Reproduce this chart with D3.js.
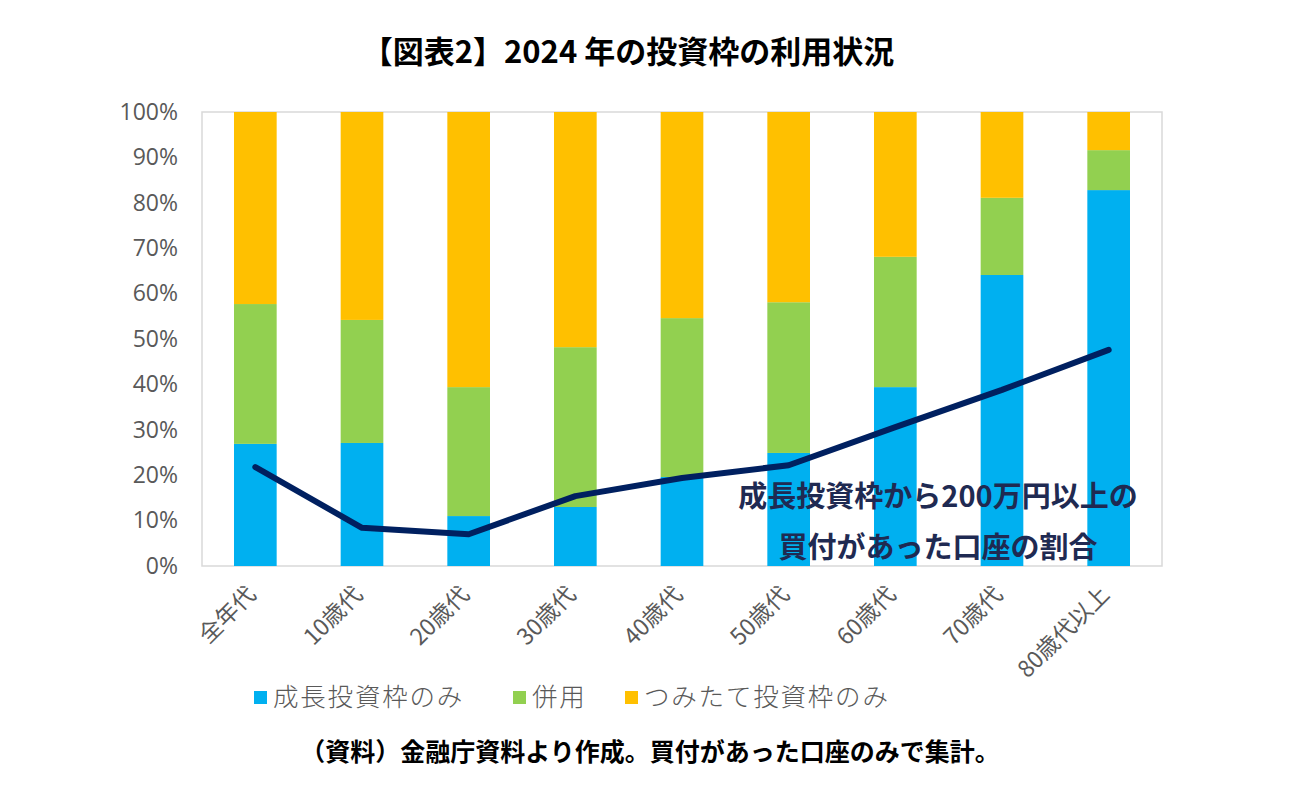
<!DOCTYPE html>
<html>
<head>
<meta charset="utf-8">
<script src="https://cdn.jsdelivr.net/npm/d3@7"></script>
<style>
  body { margin: 0; background: #fff; }
  text { font-family: "Noto Sans CJK JP", "Noto Sans", sans-serif; }
</style>
</head>
<body>
<div class="chart"></div>
<script>
const categories = ["全年代", "10歳代", "20歳代", "30歳代", "40歳代", "50歳代", "60歳代", "70歳代", "80歳代以上"];
const growthOnly = [26.9, 27.1, 11.0, 13.0, 19.6, 24.9, 39.4, 64.1, 82.8];
const combined   = [30.8, 27.1, 28.4, 35.2, 35.0, 33.2, 28.7, 17.0, 8.8];
const tsumitate  = categories.map((c, i) => +(100 - growthOnly[i] - combined[i]).toFixed(1));
const over200    = [21.8, 8.4, 7.0, 15.4, 19.4, 22.2, 30.6, 38.8, 47.6];
const yTicks = [0, 10, 20, 30, 40, 50, 60, 70, 80, 90, 100];
const seriesNames = ["成長投資枠のみ", "併用", "つみたて投資枠のみ"];
const colors = ["#00b0f0", "#92d050", "#ffc000"];

const W = 1296, H = 811;
const margin = {top: 112, left: 202, right: 134, bottom: 245};
const width = W - margin.left - margin.right;
const height = H - margin.top - margin.bottom;

const svg = d3.select(".chart").append("svg")
    .attr("width", W).attr("height", H);

svg.append("text")
    .attr("x", 628).attr("y", 63)
    .attr("text-anchor", "middle")
    .attr("font-size", 31).attr("font-weight", "bold")
    .attr("fill", "#000")
    .text("【図表2】2024 年の投資枠の利用状況");

const g = svg.append("g")
    .attr("transform", `translate(${margin.left},${margin.top})`);

const x = d3.scaleBand().domain(categories).range([0, width]).paddingInner(0.6).paddingOuter(0.3);
const y = d3.scaleLinear().domain([0, 100]).range([height, 0]);

// frame
g.append("rect")
    .attr("x", 0).attr("y", 0).attr("width", width).attr("height", height)
    .attr("fill", "none").attr("stroke", "#d9d9d9").attr("stroke-width", 1.5);

// stacked bars
const rows = categories.map((c, i) => ({cat: c, s0: growthOnly[i], s1: combined[i], s2: tsumitate[i]}));
const stack = d3.stack().keys(["s0", "s1", "s2"])(rows);

g.selectAll(".layer").data(stack).enter().append("g")
    .attr("fill", (d, i) => colors[i])
    .selectAll("rect").data(d => d).enter().append("rect")
    .attr("x", d => x(d.data.cat))
    .attr("y", d => y(Math.min(d[1], 100)))
    .attr("width", x.bandwidth())
    .attr("height", d => y(d[0]) - y(Math.min(d[1], 100)));

// y axis
const yAxis = d3.axisLeft(y).tickValues(yTicks).tickFormat(d => d + "%").tickSize(0).tickPadding(24);
const ya = g.append("g").call(yAxis);
ya.select(".domain").remove();
ya.selectAll("text").attr("font-size", 23).attr("fill", "#595959")
    .style("font-family", "'Open Sans', 'Noto Sans', sans-serif");

// x axis labels rotated
const xAxis = d3.axisBottom(x).tickSize(0).tickPadding(0);
const xa = g.append("g").attr("transform", `translate(0,${height})`).call(xAxis);
xa.select(".domain").remove();
xa.selectAll("text")
    .attr("font-size", 23).attr("fill", "#595959")
    .attr("text-anchor", "end")
    .attr("dy", 0)
    .attr("transform", `translate(2,30) rotate(-45)`);

// line
const line = d3.line()
    .x((d, i) => x(categories[i]) + x.bandwidth() / 2)
    .y(d => y(d));
g.append("path")
    .datum(over200)
    .attr("d", line)
    .attr("fill", "none")
    .attr("stroke", "#002060")
    .attr("stroke-width", 6)
    .attr("stroke-linecap", "round")
    .attr("stroke-linejoin", "round");

// annotation
const ann = g.append("text")
    .attr("text-anchor", "middle")
    .attr("font-size", 29).attr("font-weight", "bold")
    .attr("fill", "#1f2a52");
ann.append("tspan").attr("x", 736).attr("y", 395).text("成長投資枠から200万円以上の");
ann.append("tspan").attr("x", 736).attr("y", 446).text("買付があった口座の割合");

// legend
const legendX = [254, 513, 625];
const lg = svg.append("g").attr("transform", "translate(0,697)");
seriesNames.forEach((n, i) => {
  lg.append("rect").attr("x", legendX[i]).attr("y", -6).attr("width", 13).attr("height", 13).attr("fill", colors[i]);
  lg.append("text").attr("x", legendX[i] + 19).attr("y", 0).attr("dy", "0.35em")
    .attr("font-size", 25.5).attr("letter-spacing", 1.8).attr("fill", "#595959")
    .attr("font-weight", 300).text(n);
});

// source
svg.append("text")
    .attr("x", 650).attr("y", 761)
    .attr("text-anchor", "middle")
    .attr("font-size", 25).attr("font-weight", "bold")
    .attr("fill", "#000")
    .text("（資料）金融庁資料より作成。買付があった口座のみで集計。");
</script>
</body>
</html>
